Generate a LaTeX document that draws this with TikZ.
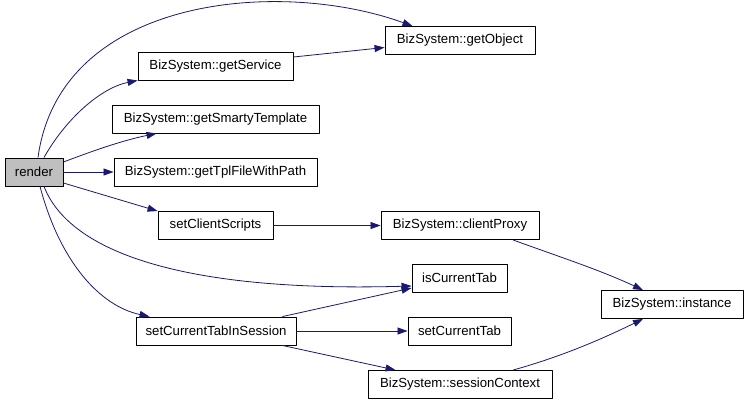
\documentclass[tikz,border=0pt]{standalone}
\usepackage{fontspec}
\setmainfont{Liberation Sans}
\usetikzlibrary{arrows.meta}
\definecolor{edgeblue}{HTML}{191970}
\begin{document}
\begin{tikzpicture}[x=1pt,y=-1pt,line join=round,
	every node/.style={font=\fontsize{13.2}{15}\selectfont},
	fn/.style={draw=black,line width=0.9pt,fill=white,inner sep=0pt,minimum height=28pt},
	call/.style={draw=edgeblue,line width=0.8pt,-{Triangle[length=10pt,width=7pt]}}]
	\useasboundingbox (0,0) rectangle (749,405);
	% functions
	\node[fn,fill=black!25,minimum width=58pt] (render) at (34,172) {render};
	\node[fn,minimum width=150pt] (getObject) at (460,40.5) {BizSystem::getObject};
	\node[fn,minimum width=155pt] (getService) at (215.5,66) {BizSystem::getService};
	\node[fn,minimum width=207pt] (getSmarty) at (215.5,119) {BizSystem::getSmartyTemplate};
	\node[fn,minimum width=203pt] (getTpl) at (215.5,172) {BizSystem::getTplFileWithPath};
	\node[fn,minimum width=115pt] (setScripts) at (215.5,225.5) {setClientScripts};
	\node[fn,minimum width=158pt] (clientProxy) at (460,225.5) {BizSystem::clientProxy};
	\node[fn,minimum width=95pt] (isTab) at (459.5,278) {isCurrentTab};
	\node[fn,minimum width=142pt] (instance) at (672,304.5) {BizSystem::instance};
	\node[fn,minimum width=160pt] (setTabSess) at (216,331) {setCurrentTabInSession};
	\node[fn,minimum width=103pt] (setTab) at (459.5,331) {setCurrentTab};
	\node[fn,minimum width=184pt] (sessCtx) at (460,384.5) {BizSystem::sessionContext};
	% calls from render
	\draw[call] ([xshift=4pt]render.north) .. controls (60,-4) and (280,-22) .. ([xshift=28pt]getObject.north west);
	\draw[call] ([xshift=10pt]render.north) .. controls (65,120) and (100,88) .. (getService.south west);
	\draw[call] ([yshift=10pt]render.east) .. controls (90,152) and (120,141) .. ([xshift=45pt]getSmarty.south west);
	\draw[call] (render.east) -- (getTpl.west);
	\draw[call] ([yshift=-11pt]render.east) -- (setScripts.north west);
	\draw[call] ([xshift=10pt]render.south) .. controls (72,258) and (200,292) .. ([yshift=-8pt]isTab.west);
	\draw[call] ([xshift=6pt]render.south) .. controls (60,262) and (100,306) .. ([xshift=14pt]setTabSess.north west);
	% other calls
	\draw[call] ([yshift=9pt]getService.east) -- ([yshift=-7pt]getObject.west);
	\draw[call] (setScripts.east) -- (clientProxy.west);
	\draw[call] ([xshift=53pt]clientProxy.south) .. controls (560,257) and (600,270) .. ([xshift=-29pt]instance.north);
	\draw[call] ([xshift=-14pt]setTabSess.north east) -- ([yshift=-10pt]isTab.west);
	\draw[call] (setTabSess.east) -- (setTab.west);
	\draw[call] ([xshift=-14pt]setTabSess.south east) -- ([xshift=28pt]sessCtx.north west);
	\draw[call] ([xshift=53pt]sessCtx.north) .. controls (560,357) and (600,340) .. ([xshift=-29pt]instance.south);
\end{tikzpicture}
\end{document}
